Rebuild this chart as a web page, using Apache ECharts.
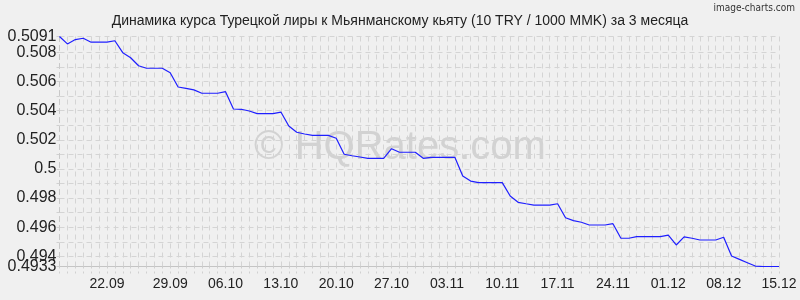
<!DOCTYPE html>
<html>
<head>
<meta charset="utf-8">
<script src="https://cdn.jsdelivr.net/npm/echarts@6/dist/echarts.min.js"></script>
<style>
html,body{margin:0;padding:0;background:#f0f0f0;}
#c{width:800px;height:300px;}
</style>
</head>
<body>
<div id="c"></div>
<script>
var titleText = 'Динамика курса Турецкой лиры к Мьянманскому кьяту (10 TRY / 1000 MMK) за 3 месяца';
var xTickPos = [6, 14, 21, 28, 35, 42, 49, 56, 63, 70, 77, 84, 91];
var xTickLabels = ['22.09', '29.09', '06.10', '13.10', '20.10', '27.10', '03.11', '10.11', '17.11', '24.11', '01.12', '08.12', '15.12'];
var yTickLabels = [0.4933, 0.496, 0.498, 0.5, 0.502, 0.504, 0.506, 0.508, 0.5091];
var yExtraLabels = [0.494];
var yGridValues = [0.4933, 0.494, 0.495, 0.496, 0.497, 0.498, 0.499, 0.5, 0.501, 0.502, 0.503, 0.504, 0.505, 0.506, 0.507, 0.508, 0.5091];
var rates = [
  0.5091, 0.50859, 0.50889, 0.50898, 0.50871, 0.50871, 0.50871, 0.50881, 0.50799, 0.50764,
  0.50709, 0.50692, 0.50692, 0.50692, 0.50661, 0.50563, 0.50554, 0.50543, 0.50520, 0.50520,
  0.50520, 0.50531, 0.50412, 0.50410, 0.50398, 0.50380, 0.50380, 0.50380, 0.50391, 0.50295,
  0.50252, 0.50240, 0.50231, 0.50231, 0.50231, 0.50211, 0.50101, 0.50091, 0.50082, 0.50073,
  0.50073, 0.50073, 0.50139, 0.50115, 0.50115, 0.50115, 0.50073, 0.50080, 0.50080, 0.50080,
  0.50080, 0.49952, 0.49917, 0.49906, 0.49906, 0.49906, 0.49906, 0.49814, 0.49771, 0.49761,
  0.49752, 0.49752, 0.49752, 0.49761, 0.49665, 0.49645, 0.49634, 0.49615, 0.49615, 0.49615,
  0.49624, 0.49524, 0.49524, 0.49535, 0.49535, 0.49535, 0.49535, 0.49546, 0.49478, 0.49533,
  0.49524, 0.49512, 0.49512, 0.49512, 0.49531, 0.49402, 0.49379, 0.49356, 0.49333, 0.4933,
  0.4933, 0.4933
];

var FONT = 'Liberation Sans, Arial, sans-serif';
var fmtY = function (v) { return String(parseFloat(v.toFixed(4))); };
var seriesData = rates.map(function (v, i) { return [i, v]; });
var chart = echarts.init(document.getElementById('c'), null, {renderer: 'canvas'});
chart.setOption({
  backgroundColor: '#f0f0f0',
  animation: false,
  title: {
    text: titleText,
    left: 'center',
    top: 9,
    textStyle: {fontFamily: FONT, fontSize: 14, fontWeight: 'normal', color: '#222'}
  },
  graphic: [
    {
      type: 'text', right: 5, top: 3, z: 10,
      style: {text: 'image-charts.com', font: '10px "DejaVu Sans Condensed", "DejaVu Sans", sans-serif', fill: '#333'}
    },
    {
      type: 'text', left: 'center', top: 128, z: 0, silent: true,
      style: {text: '© HQRates.com', font: '40px "Liberation Sans", Arial, sans-serif', fill: 'rgba(170,170,170,0.42)'}
    }
  ],
  grid: {left: 59.5, right: 21, top: 36.5, bottom: 33.5, containLabel: false, outerBoundsMode: 'none'},
  xAxis: {
    type: 'value', min: 0, max: 91, interval: 1,
    axisLine: {show: true, lineStyle: {color: '#c4c4c4', width: 1}},
    axisTick: {show: true, length: 9, lineStyle: {color: '#d0d0d0', type: [2, 3]}},
    splitLine: {show: true, lineStyle: {color: '#d4d4d4', type: [5, 4]}},
    axisLabel: {
      customValues: xTickPos,
      hideOverlap: false,
      margin: 11,
      fontFamily: FONT, fontSize: 14, color: '#222',
      formatter: function (v) { var k = xTickPos.indexOf(Math.round(v)); return k >= 0 ? xTickLabels[k] : ''; }
    }
  },
  yAxis: [{
    type: 'value', min: 0.4933, max: 0.5091, scale: true,
    axisLine: {show: true, lineStyle: {color: '#c8c8c8', type: [5, 4]}},
    axisTick: {show: true, length: 3, customValues: yGridValues, lineStyle: {color: '#d0d0d0'}},
    splitLine: {show: true, lineStyle: {color: '#d4d4d4', type: [5, 4]}},
    axisLabel: {
      customValues: yTickLabels,
      hideOverlap: false,
      showMinLabel: true, showMaxLabel: true,
      margin: 3,
      fontFamily: FONT, fontSize: 16, color: '#222',
      formatter: fmtY
    }
  }, {
    type: 'value', min: 0.4933, max: 0.5091, scale: true, position: 'left', offset: 0,
    axisLine: {show: false}, axisTick: {show: false}, splitLine: {show: false},
    axisLabel: {
      customValues: yExtraLabels,
      hideOverlap: false,
      margin: 3,
      fontFamily: FONT, fontSize: 16, color: '#222',
      formatter: fmtY
    }
  }],
  series: [{
    type: 'line',
    data: seriesData,
    showSymbol: false,
    symbol: 'none',
    lineStyle: {color: '#1f1fff', width: 1.2},
    z: 5
  }]
});
</script>
</body>
</html>
